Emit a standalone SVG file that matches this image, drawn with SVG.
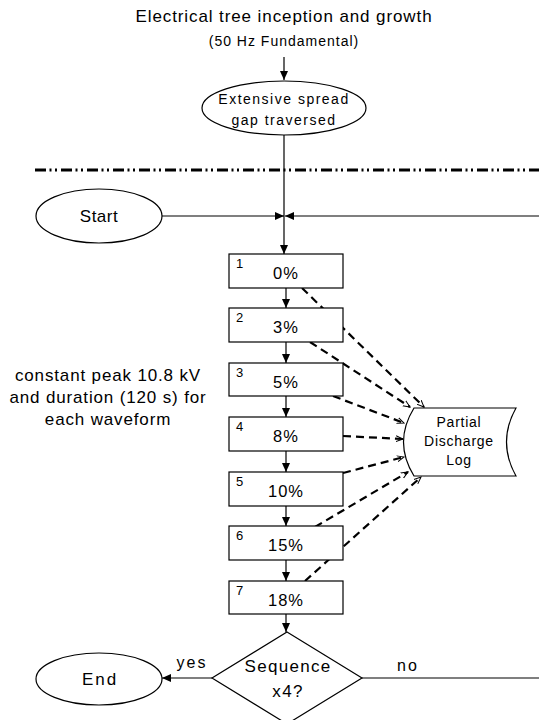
<svg xmlns="http://www.w3.org/2000/svg" width="539" height="720" viewBox="0 0 539 720">
<style>
text{font-family:"Liberation Sans",Arial,sans-serif;fill:#000}
.sh{fill:#fff;stroke:#000;stroke-width:1.2}
.ln{fill:none;stroke:#000;stroke-width:1.2}
.ds{fill:none;stroke:#000;stroke-width:2.2;stroke-dasharray:8 5}
.pc{font-size:16.5px;text-anchor:middle;letter-spacing:1px}
.nm{font-size:13px}
.lg{font-size:14px;text-anchor:middle;letter-spacing:0.75px}
.nt{font-size:17px;text-anchor:middle;letter-spacing:0.85px}
.yn{font-size:16px;text-anchor:middle;letter-spacing:2px}
</style>
<defs>
<marker id="fa" markerWidth="10" markerHeight="8" refX="9" refY="4" orient="auto" markerUnits="userSpaceOnUse">
<path d="M0,0 L9,4 L0,8 Z" fill="#000"/>
</marker>
<marker id="oa" markerWidth="8" markerHeight="8" refX="7" refY="4" orient="auto" markerUnits="userSpaceOnUse">
<path d="M0,1 L7,4 L0,7" fill="none" stroke="#000" stroke-width="1"/>
</marker>
</defs>
<rect width="539" height="720" fill="#fff"/>
<g id="title">
<text x="284" y="22" font-size="17" letter-spacing="0.9" text-anchor="middle">Electrical tree inception and growth</text>
<text x="284" y="46" font-size="14" letter-spacing="1" text-anchor="middle">(50 Hz Fundamental)</text>
</g>
<g id="separator"><line x1="35" y1="170" x2="539" y2="170" stroke="#000" stroke-width="3" stroke-dasharray="11 3.5 2 3.5 2 4"/></g>
<g id="connectors">
<line class="ln" x1="284" y1="57" x2="284" y2="80" marker-end="url(#fa)"/>
<line class="ln" x1="284" y1="135" x2="284" y2="254" marker-end="url(#fa)"/>
<line class="ln" x1="162" y1="216" x2="284" y2="216" marker-end="url(#fa)"/>
<line class="ln" x1="539" y1="216" x2="285" y2="216" marker-end="url(#fa)"/>
<line class="ln" x1="286" y1="288" x2="286" y2="308" marker-end="url(#fa)"/>
<line class="ln" x1="286" y1="342" x2="286" y2="363" marker-end="url(#fa)"/>
<line class="ln" x1="286" y1="396" x2="286" y2="417" marker-end="url(#fa)"/>
<line class="ln" x1="286" y1="451" x2="286" y2="472" marker-end="url(#fa)"/>
<line class="ln" x1="286" y1="506" x2="286" y2="526" marker-end="url(#fa)"/>
<line class="ln" x1="286" y1="560" x2="286" y2="581" marker-end="url(#fa)"/>
<line class="ln" x1="286" y1="614" x2="286" y2="632" marker-end="url(#fa)"/>
<line class="ln" x1="212" y1="678" x2="162" y2="678" marker-end="url(#fa)"/>
<line class="ln" x1="362" y1="678" x2="539" y2="678"/>
<line class="ds" x1="302" y1="288" x2="424" y2="407" marker-end="url(#oa)"/>
<line class="ds" x1="310" y1="342" x2="410" y2="407" marker-end="url(#oa)"/>
<line class="ds" x1="333" y1="396" x2="404" y2="423" marker-end="url(#oa)"/>
<line class="ds" x1="343" y1="436" x2="403" y2="439" marker-end="url(#oa)"/>
<line class="ds" x1="343" y1="473" x2="404" y2="457" marker-end="url(#oa)"/>
<line class="ds" x1="315" y1="527" x2="408" y2="472" marker-end="url(#oa)"/>
<line class="ds" x1="305" y1="581" x2="421" y2="477" marker-end="url(#oa)"/>
<text class="yn" x="192" y="668">yes</text>
<text class="yn" x="408" y="671">no</text>
</g>
<g id="spread">
<ellipse class="sh" cx="284" cy="108" rx="82" ry="27"/>
<text x="284" y="104" font-size="14" letter-spacing="1.5" text-anchor="middle">Extensive spread</text>
<text x="284" y="125" font-size="14" letter-spacing="1.5" text-anchor="middle">gap traversed</text>
</g>
<g id="start">
<ellipse class="sh" cx="99" cy="216" rx="63" ry="27"/>
<text x="99" y="222" font-size="17" letter-spacing="0.5" text-anchor="middle">Start</text>
</g>
<g id="box1"><rect class="sh" x="229" y="254" width="114" height="34"/><text class="nm" x="236" y="268">1</text><text class="pc" x="286" y="279">0%</text></g>
<g id="box2"><rect class="sh" x="229" y="308" width="114" height="34"/><text class="nm" x="236" y="322">2</text><text class="pc" x="286" y="333">3%</text></g>
<g id="box3"><rect class="sh" x="229" y="363" width="114" height="33"/><text class="nm" x="236" y="377">3</text><text class="pc" x="286" y="388">5%</text></g>
<g id="box4"><rect class="sh" x="229" y="417" width="114" height="34"/><text class="nm" x="236" y="431">4</text><text class="pc" x="286" y="442">8%</text></g>
<g id="box5"><rect class="sh" x="229" y="472" width="114" height="34"/><text class="nm" x="236" y="486">5</text><text class="pc" x="286" y="497">10%</text></g>
<g id="box6"><rect class="sh" x="229" y="526" width="114" height="34"/><text class="nm" x="236" y="540">6</text><text class="pc" x="286" y="551">15%</text></g>
<g id="box7"><rect class="sh" x="229" y="581" width="114" height="33"/><text class="nm" x="236" y="595">7</text><text class="pc" x="286" y="606">18%</text></g>
<g id="log">
<path class="sh" d="M414,408 L516,408 Q497,442 516,476 L414,476 Q393,442 414,408 Z"/>
<text class="lg" x="459" y="427">Partial</text>
<text class="lg" x="459" y="446">Discharge</text>
<text class="lg" x="459" y="465">Log</text>
</g>
<g id="note">
<text class="nt" x="108" y="381">constant peak 10.8 kV</text>
<text class="nt" x="108" y="403">and duration (120 s) for</text>
<text class="nt" x="108" y="425">each waveform</text>
</g>
<g id="decision">
<path class="sh" d="M287,632 L362,678 L287,724 L212,678 Z"/>
<text x="288" y="672" font-size="17" letter-spacing="1.3" text-anchor="middle">Sequence</text>
<text x="288" y="697" font-size="17" letter-spacing="1.3" text-anchor="middle">x4?</text>
</g>
<g id="end">
<ellipse class="sh" cx="99" cy="679" rx="63" ry="26"/>
<text x="100" y="685" font-size="17" letter-spacing="2" text-anchor="middle">End</text>
</g>
</svg>
